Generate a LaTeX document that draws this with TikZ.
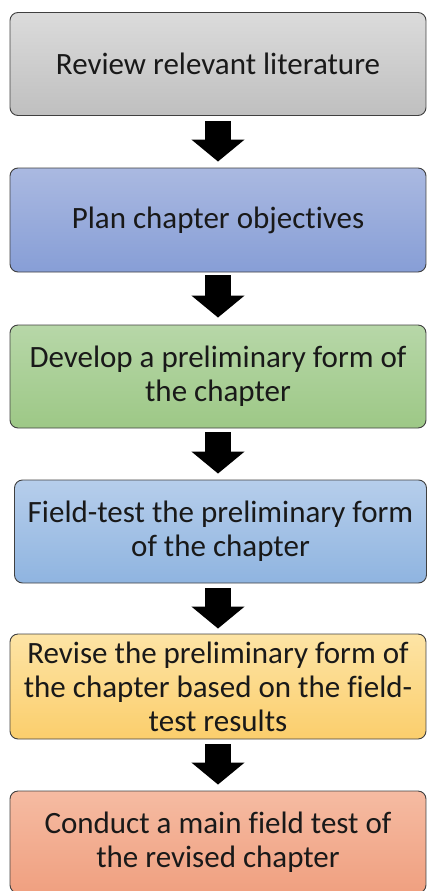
\documentclass[tikz,border=0pt]{standalone}
\usepackage{fontspec}
\setmainfont[Ligatures={NoCommon}]{Carlito}
\usetikzlibrary{arrows.meta}
\begin{document}
\begin{tikzpicture}[x=1pt,y=-1pt,
  stepbox/.style={draw=black!75, line width=0.9pt, rounded corners=8pt,
    align=center, font=\fontsize{31}{34}\selectfont, text=black!90,
    minimum width=416pt, inner sep=1pt},
  bigarrow/.style={line width=26pt, black, -{Triangle[width=52pt,length=22pt]}}
]
\useasboundingbox (0,0) rectangle (427,891);
\node[stepbox, minimum height=103pt, top color=black!14, bottom color=black!25] (b1) at (218,64) {Review relevant literature};
\node[stepbox, minimum height=104pt, top color={rgb,255:red,170;green,185;blue,225}, bottom color={rgb,255:red,135;green,158;blue,214}] (b2) at (218,220) {Plan chapter objectives};
\node[stepbox, minimum height=103pt, top color={rgb,255:red,183;green,215;blue,168}, bottom color={rgb,255:red,157;green,200;blue,134}] (b3) at (218,376.5) {Develop a preliminary form of\\the chapter};
\node[stepbox, minimum width=412pt, minimum height=103pt, top color={rgb,255:red,182;green,206;blue,235}, bottom color={rgb,255:red,143;green,180;blue,224}] (b4) at (220.5,531.5) {Field-test the preliminary form\\of the chapter};
\node[stepbox, minimum height=105pt, top color={rgb,255:red,253;green,228;blue,165}, bottom color={rgb,255:red,251;green,206;blue,108}] (b5) at (218,686.5) {Revise the preliminary form of\\the chapter based on the field-\\test results};
\node[stepbox, minimum height=102pt, top color={rgb,255:red,245;green,187;blue,162}, bottom color={rgb,255:red,240;green,160;blue,128}] (b6) at (218,842) {Conduct a main field test of\\the revised chapter};
\draw[bigarrow] ([yshift=-5pt]b1.south) -- ([yshift=6pt]b2.north);
\draw[bigarrow] ([yshift=-3pt]b2.south) -- ([yshift=7pt]b3.north);
\draw[bigarrow] ([yshift=-4pt]b3.south) -- ([yshift=6pt]b4.north -| b3.south);
\draw[bigarrow] ([yshift=-5pt]b4.south -| b3.south) -- ([yshift=5pt]b5.north);
\draw[bigarrow] ([yshift=-5pt]b5.south) -- ([yshift=6pt]b6.north);
\end{tikzpicture}
\end{document}
